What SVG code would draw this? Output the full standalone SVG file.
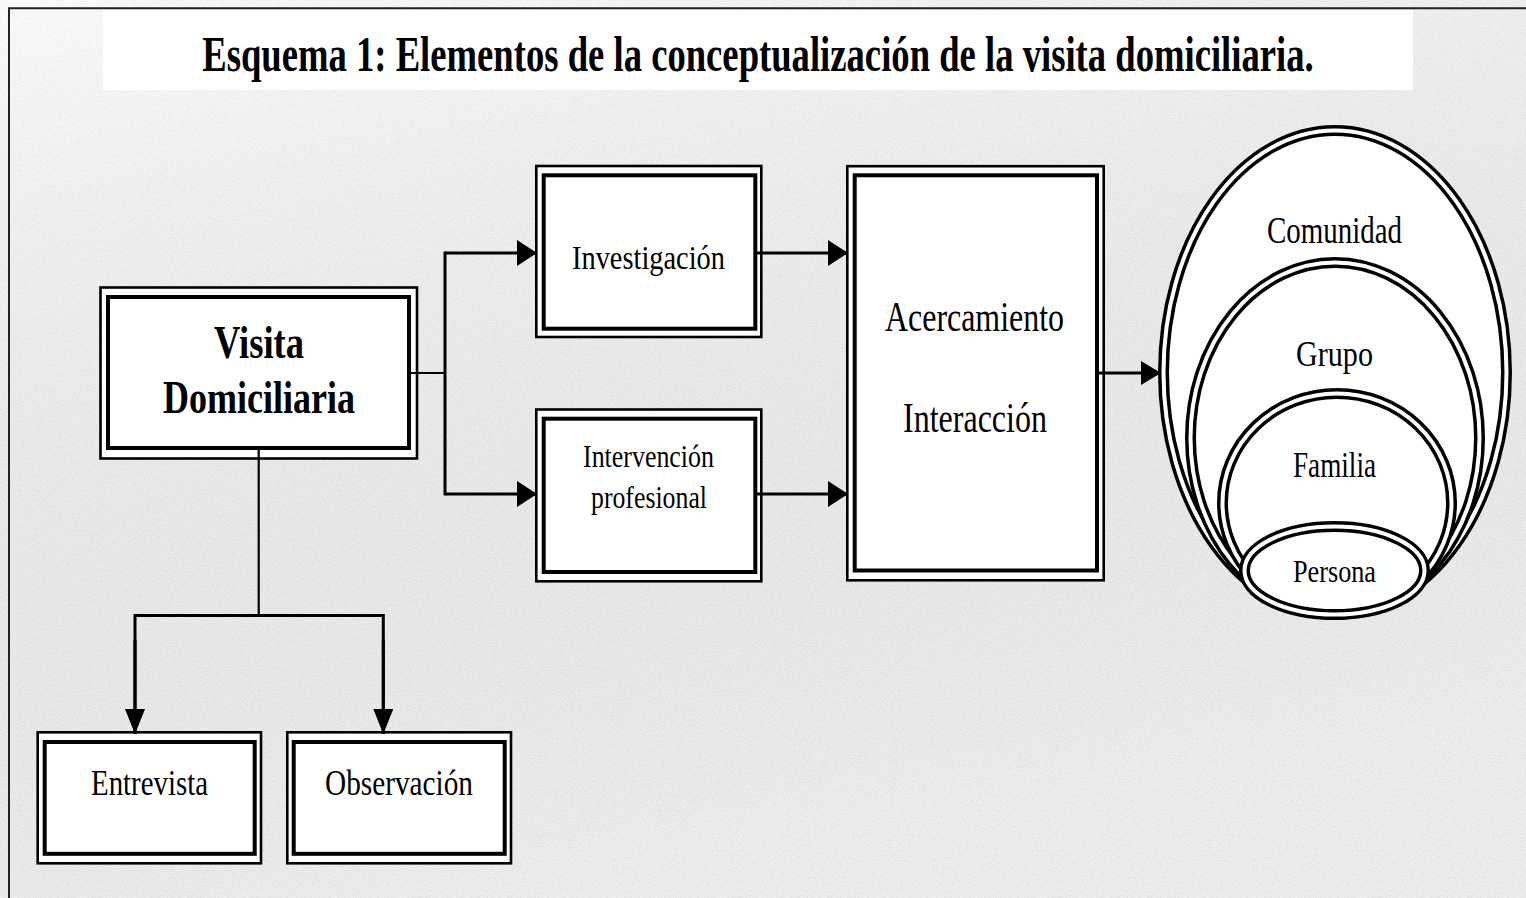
<svg xmlns="http://www.w3.org/2000/svg" width="1526" height="898" viewBox="0 0 1526 898">
<defs>
<filter id="paper" x="0" y="0" width="1526" height="898" filterUnits="userSpaceOnUse">
<feTurbulence type="fractalNoise" baseFrequency="0.8" numOctaves="3" seed="7" result="n"/>
<feColorMatrix in="n" type="matrix" values="0.3 0 0 0 0.775  0.3 0 0 0 0.775  0.3 0 0 0 0.775  0 0 0 0 1"/>
</filter>
<linearGradient id="shade" x1="0" y1="0" x2="0.3" y2="1">
<stop offset="0" stop-color="#ffffff" stop-opacity="0.2"/>
<stop offset="1" stop-color="#000000" stop-opacity="0.05"/>
</linearGradient>
<marker id="ah" markerUnits="userSpaceOnUse" markerWidth="20" markerHeight="26" viewBox="0 0 20 26" refX="20" refY="13" orient="auto">
<path d="M0,0 L20,13 L0,26 Z" fill="#000"/>
</marker>
<marker id="ae" markerUnits="userSpaceOnUse" markerWidth="20" markerHeight="24" viewBox="0 0 20 24" refX="20" refY="12" orient="auto">
<path d="M0,0 L20,12 L0,24 Z" fill="#000"/>
</marker>
<marker id="av" markerUnits="userSpaceOnUse" markerWidth="25" markerHeight="20" viewBox="0 0 25 20" refX="25" refY="10" orient="auto">
<path d="M0,0 L25,10 L0,20 Z" fill="#000"/>
</marker>
</defs>
<style>
.bo{fill:#fff;stroke:#000;stroke-width:2.6}
.bi{fill:#fff;stroke:#000;stroke-width:4}
.eo{fill:#fff;stroke:#000;stroke-width:11}
.ei{fill:none;stroke:#fff;stroke-width:4}
.t{font-family:"Liberation Serif","Times New Roman",serif;fill:#000;text-anchor:middle}
.b{font-weight:bold}
.c{fill:none;stroke:#000;stroke-width:3}
.c2{fill:none;stroke:#000;stroke-width:2.2}
</style>
<rect x="0" y="0" width="1526" height="898" filter="url(#paper)"/>
<rect x="0" y="0" width="1526" height="898" fill="url(#shade)"/>
<path d="M9,898 V8.3 H1526" fill="none" stroke="#222" stroke-width="2"/>

<g id="title">
<rect x="103" y="10" width="1310" height="80" fill="#fff"/>
<text class="t b" transform="translate(758,71) scale(0.733,1)" x="0" y="0" font-size="50">Esquema 1: Elementos de la conceptualización de la visita domiciliaria.</text>
</g>

<g id="visita">
<rect class="bo" x="100.5" y="287.5" width="316.5" height="171"/>
<rect class="bi" x="108" y="297" width="301" height="151"/>
<text class="t b" x="259" y="358" font-size="46" textLength="90" lengthAdjust="spacingAndGlyphs">Visita</text>
<text class="t b" x="259" y="413" font-size="46" textLength="192" lengthAdjust="spacingAndGlyphs">Domiciliaria</text>
</g>

<g id="investigacion">
<rect class="bo" x="536.3" y="166" width="225" height="171"/>
<rect class="bi" x="543.7" y="175.3" width="211.6" height="153.4"/>
<text class="t" x="648.5" y="269" font-size="33" textLength="153" lengthAdjust="spacingAndGlyphs">Investigación</text>
</g>

<g id="intervencion">
<rect class="bo" x="536.3" y="409.5" width="225" height="171.8"/>
<rect class="bi" x="543.7" y="418.7" width="211.6" height="153.3"/>
<text class="t" x="648.5" y="467" font-size="31" textLength="131" lengthAdjust="spacingAndGlyphs">Intervención</text>
<text class="t" x="649" y="508" font-size="31" textLength="116" lengthAdjust="spacingAndGlyphs">profesional</text>
</g>

<g id="acercamiento">
<rect class="bo" x="847.3" y="166.2" width="256.4" height="414.1"/>
<rect class="bi" x="854.7" y="175.3" width="242.3" height="395.2"/>
<text class="t" x="974.5" y="331" font-size="43" textLength="179" lengthAdjust="spacingAndGlyphs">Acercamiento</text>
<text class="t" x="975" y="432" font-size="43" textLength="144" lengthAdjust="spacingAndGlyphs">Interacción</text>
</g>

<g id="entrevista">
<rect class="bo" x="37.7" y="732.3" width="223.3" height="131"/>
<rect class="bi" x="44.7" y="742" width="210" height="111.8"/>
<text class="t" x="149.5" y="795" font-size="36" textLength="117" lengthAdjust="spacingAndGlyphs">Entrevista</text>
</g>

<g id="observacion">
<rect class="bo" x="287.3" y="732.3" width="223.7" height="131"/>
<rect class="bi" x="293.7" y="742" width="211" height="111.8"/>
<text class="t" x="399" y="795" font-size="36" textLength="148" lengthAdjust="spacingAndGlyphs">Observación</text>
</g>

<g id="comunidad">
<ellipse class="eo" cx="1335" cy="372.5" rx="171.5" ry="242"/>
<ellipse class="ei" cx="1335" cy="372.5" rx="171.5" ry="242"/>
<text class="t" x="1334.5" y="243" font-size="38" textLength="135" lengthAdjust="spacingAndGlyphs">Comunidad</text>
</g>

<g id="grupo">
<ellipse class="eo" cx="1335" cy="438" rx="144.5" ry="175.5"/>
<ellipse class="ei" cx="1335" cy="438" rx="144.5" ry="175.5"/>
<text class="t" x="1334.5" y="366" font-size="35" textLength="77" lengthAdjust="spacingAndGlyphs">Grupo</text>
</g>

<g id="familia">
<ellipse class="eo" cx="1337" cy="503" rx="114.5" ry="109.5"/>
<ellipse class="ei" cx="1337" cy="503" rx="114.5" ry="109.5"/>
<text class="t" x="1334.5" y="477" font-size="36" textLength="83" lengthAdjust="spacingAndGlyphs">Familia</text>
</g>

<g id="persona">
<ellipse class="eo" cx="1334.5" cy="570.5" rx="90" ry="44"/>
<ellipse class="ei" cx="1334.5" cy="570.5" rx="90" ry="44"/>
<text class="t" x="1334.5" y="582" font-size="31" textLength="83" lengthAdjust="spacingAndGlyphs">Persona</text>
</g>

<g id="connectors">
<path class="c2" d="M410.7,373 H445"/>
<path class="c" d="M445,251.5 V495.3"/>
<path class="c" d="M445,253 H537" marker-end="url(#ah)"/>
<path class="c" d="M445,494 H537" marker-end="url(#ah)"/>
<path class="c" d="M757,253 H848" marker-end="url(#ah)"/>
<path class="c" d="M757,494 H848" marker-end="url(#ah)"/>
<path class="c" d="M1099,373 H1161" marker-end="url(#ae)"/>
<path class="c2" d="M258.7,450 V615.5"/>
<path class="c" d="M135,734 V615.5 H383.3 V734"/>
<path class="c" d="M135,640 V734" marker-end="url(#av)"/>
<path class="c" d="M383.3,640 V734" marker-end="url(#av)"/>
</g>
</svg>
